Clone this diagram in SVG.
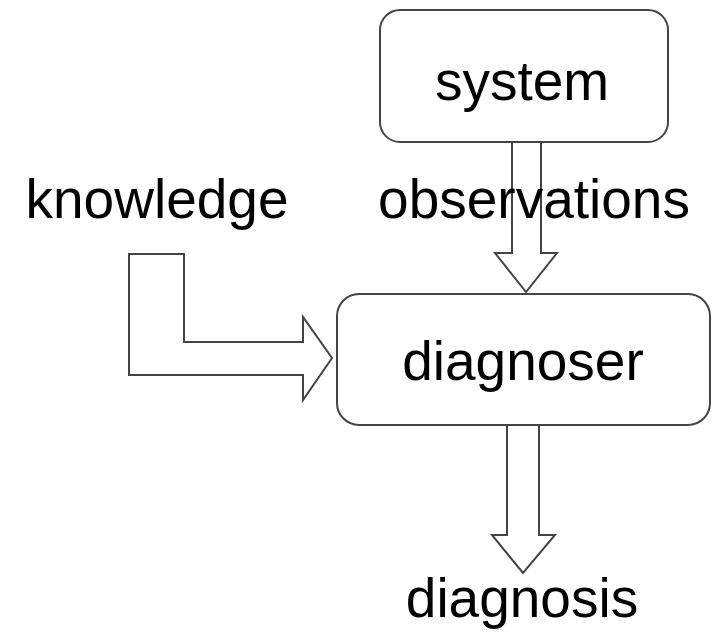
<svg xmlns="http://www.w3.org/2000/svg" width="713" height="632" viewBox="0 0 713 632">
  <style>
    .box { fill: #ffffff; stroke: #444444; stroke-width: 2; }
    .flow { fill: #ffffff; stroke: #444444; stroke-width: 2; stroke-linejoin: miter; }
    .lbl { font-family: "Liberation Sans", Arial, sans-serif; font-size: 55px; fill: #000000; }
  </style>
  <rect width="713" height="632" fill="#ffffff"/>

  <!-- block arrows between the parts -->
  <g id="connectors">
    <polygon id="observations-arrow" class="flow" points="512,142 541,142 541,253 557,253 526,292 495,253 512,253"/>
    <polygon id="knowledge-arrow" class="flow" points="129,254 184,254 184,342 303,342 303,317 332,358 303,400 303,375 129,375"/>
    <polygon id="diagnosis-arrow" class="flow" points="507,425 539,425 539,535 555,535 523,573 492,535 507,535"/>
  </g>

  <g id="system">
    <rect class="box" x="380" y="10" width="288" height="132" rx="20" ry="20"/>
    <text class="lbl" x="522" y="100" text-anchor="middle">system</text>
  </g>

  <g id="diagnoser">
    <rect class="box" x="337" y="294" width="373" height="131" rx="22" ry="22"/>
    <text class="lbl" x="523" y="380" text-anchor="middle">diagnoser</text>
  </g>

  <g id="knowledge">
    <text class="lbl" x="157" y="218" text-anchor="middle">knowledge</text>
  </g>

  <g id="observations">
    <text class="lbl" x="534" y="218" text-anchor="middle">observations</text>
  </g>

  <g id="diagnosis">
    <text class="lbl" x="522" y="617" text-anchor="middle">diagnosis</text>
  </g>
</svg>
